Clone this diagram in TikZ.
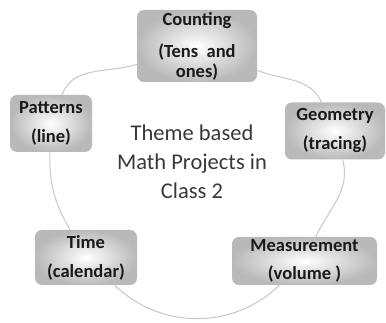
\documentclass[tikz,border=0pt]{standalone}
\usepackage{fontspec}
\setmainfont{Carlito}
\usetikzlibrary{positioning}

\begin{document}
\begin{tikzpicture}[
        x=1pt, y=1pt,
        % Style for the shaded topic boxes
        topicbox/.style={rectangle, rounded corners=7pt, inner sep=0pt,
            shade, inner color=white, outer color=gray!55,
            align=center, text=black!90,
            font=\fontsize{18.5}{20}\selectfont\bfseries},
        % Style for the pieces of the ring
        ringline/.style={draw=black!22, line width=1pt}
    ]
        \useasboundingbox (0,0) rectangle (386,323);

        % --- Topic boxes ---
        \node[topicbox, minimum width=120, minimum height=72] (Cnt) at (197,277)
            {Counting\\[12pt](Tens~ and\\ones)};
        \node[topicbox, minimum width=82, minimum height=57] (Pat) at (51,199.5)
            {Patterns\\[9pt](line)};
        \node[topicbox, minimum width=100, minimum height=57] (Geo) at (335,192)
            {Geometry\\[9pt](tracing)};
        \node[topicbox, minimum width=102, minimum height=55] (Tim) at (86,65.5)
            {Time\\[9pt](calendar)};
        \node[topicbox, minimum width=145, minimum height=48] (Mea) at (304.5,62)
            {Measurement\\[8pt](volume )};

        % --- Title in the middle ---
        \node[align=center, text=black!78, font=\fontsize{22.5}{29}\selectfont] (Ttl) at (192,161.5)
            {Theme based\\Math Projects in\\Class 2};

        % --- Ring between the boxes ---
        \draw[ringline] (Cnt) to[out=197, in=69] (Pat);
        \draw[ringline] (Cnt) to[out=-22, in=115] (Geo);
        \draw[ringline] (Pat) to[out=268, in=120] (Tim);
        \draw[ringline] (Geo) to[out=285, in=65] (Mea);
        \draw[ringline] (Tim) to[out=316, in=224] (Mea);

    \end{tikzpicture}
\end{document}
